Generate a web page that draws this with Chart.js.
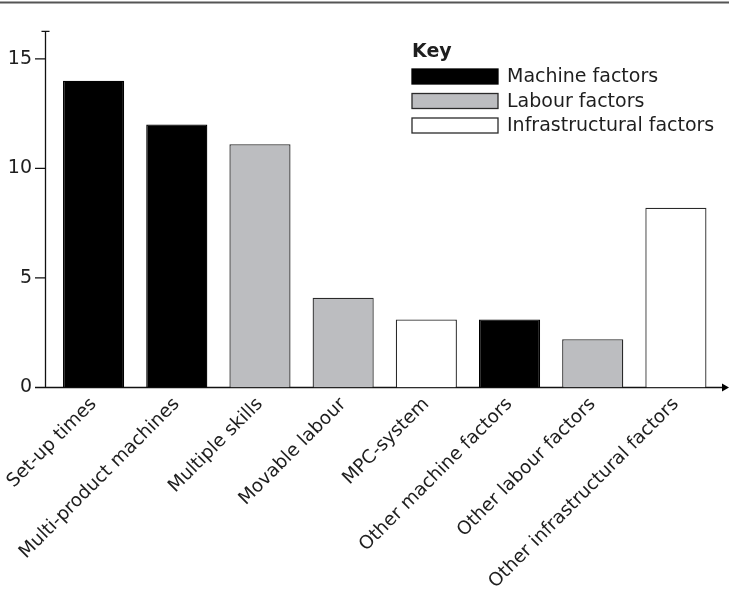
<!DOCTYPE html>
<html>
<head>
<meta charset="utf-8">
<script src="https://cdn.jsdelivr.net/npm/chart.js@4"></script>
<style>
  html, body { margin: 0; padding: 0; background: #fff; }
  #wrap { width: 729px; height: 589px; position: relative; }
</style>
</head>
<body>
<div id="wrap"><canvas id="chart" width="729" height="589"></canvas></div>
<script>
const categories = [
  'Set-up times', 'Multi-product machines', 'Multiple skills', 'Movable labour',
  'MPC-system', 'Other machine factors', 'Other labour factors', 'Other infrastructural factors'
];
const values = [14, 12, 11.1, 4.1, 3.1, 3.1, 2.2, 8.2];
const factorGroup = ['machine', 'machine', 'labour', 'labour', 'infra', 'machine', 'labour', 'infra'];
const keyGroups = ['machine', 'labour', 'infra'];
const keyLabels = ['Machine factors', 'Labour factors', 'Infrastructural factors'];
const yTicks = [0, 5, 10, 15];

const fills = { machine: '#000000', labour: '#bcbdc0', infra: '#ffffff' };
const edges = { machine: '#000000', labour: '#2a2a2a', infra: '#2a2a2a' };
const FONT = 'DejaVu Sans';
const INK = '#1e1e1e';

// axes drawn a few px left of the chart area, like the original
const axesPlugin = {
  id: 'axes',
  beforeDatasetsDraw(chart) {
    const ctx = chart.ctx;
    const area = chart.chartArea;
    const y = chart.scales.y;
    const ax = area.left - 6.5;
    ctx.save();
    ctx.strokeStyle = '#111';
    ctx.lineWidth = 1.3;
    ctx.beginPath();
    ctx.moveTo(ax, area.top);
    ctx.lineTo(ax, area.bottom);
    ctx.moveTo(ax - 4, area.top);
    ctx.lineTo(ax + 4, area.top);
    yTicks.forEach(v => {
      const py = y.getPixelForValue(v);
      ctx.moveTo(ax - 10.5, py);
      ctx.lineTo(ax, py);
    });
    ctx.moveTo(ax, area.bottom);
    ctx.lineTo(chart.width - 6, area.bottom);
    ctx.stroke();
    ctx.fillStyle = '#000';
    ctx.beginPath();
    ctx.moveTo(chart.width - 7, area.bottom - 4);
    ctx.lineTo(chart.width, area.bottom);
    ctx.lineTo(chart.width - 7, area.bottom + 4);
    ctx.closePath();
    ctx.fill();
    // rule at the top of the page
    ctx.strokeStyle = '#555';
    ctx.lineWidth = 2;
    ctx.beginPath();
    ctx.moveTo(0, 2.5);
    ctx.lineTo(chart.width, 2.5);
    ctx.stroke();
    ctx.restore();
  }
};

const keyPlugin = {
  id: 'key',
  afterDraw(chart) {
    const ctx = chart.ctx;
    const kx = 412, ky = 52, rowGap = 24.5, boxW = 86, boxH = 15;
    ctx.save();
    ctx.fillStyle = INK;
    ctx.textBaseline = 'middle';
    ctx.font = 'bold 19px "' + FONT + '"';
    ctx.fillText('Key', kx, ky);
    ctx.font = '19px "' + FONT + '"';
    keyGroups.forEach((g, i) => {
      const cy = ky + rowGap * (i + 1);
      ctx.fillStyle = fills[g];
      ctx.fillRect(kx, cy - boxH / 2, boxW, boxH);
      ctx.strokeStyle = edges[g];
      ctx.lineWidth = 1.3;
      ctx.strokeRect(kx, cy - boxH / 2, boxW, boxH);
      ctx.fillStyle = INK;
      ctx.fillText(keyLabels[i], kx + boxW + 9, cy + 1);
    });
    ctx.restore();
  }
};

new Chart(document.getElementById('chart'), {
  type: 'bar',
  data: {
    labels: categories,
    datasets: [{
      data: values,
      backgroundColor: factorGroup.map(g => fills[g]),
      borderColor: factorGroup.map(g => edges[g]),
      borderWidth: 1.3,
      barPercentage: 0.735,
      categoryPercentage: 1.0
    }]
  },
  options: {
    responsive: false,
    animation: false,
    devicePixelRatio: 1,
    layout: { padding: { top: 13, right: 11.5, left: 0, bottom: 0 } },
    plugins: { legend: { display: false }, tooltip: { enabled: false } },
    scales: {
      x: {
        grid: { display: false, drawTicks: false },
        border: { display: false },
        ticks: {
          autoSkip: false, maxRotation: 45, minRotation: 45, padding: 6,
          color: INK, font: { family: FONT, size: 18.5 }
        },
        afterFit(scale) { scale.height = 201.5; }
      },
      y: {
        min: 0, max: 16.25,
        grid: { display: false, drawTicks: false },
        border: { display: false },
        ticks: {
          stepSize: 5, padding: 20, color: INK,
          font: { family: FONT, size: 19 }
        },
        afterBuildTicks(scale) {
          scale.ticks = yTicks.map(v => ({ value: v }));
        },
        afterFit(scale) { scale.width = 52; }
      }
    }
  },
  plugins: [axesPlugin, keyPlugin]
});
</script>
</body>
</html>
